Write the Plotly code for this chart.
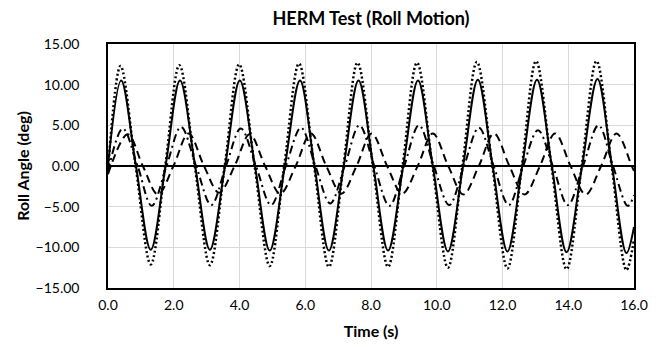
import plotly.graph_objects as go

# ---- Data (key points: extrema and zero crossings) ----
solid_t = [0.00, 0.40, 0.85, 1.30, 1.75, 2.19, 2.65, 3.10, 3.56, 4.01, 4.47, 4.92, 5.38, 5.84,
           6.28, 6.72, 7.17, 7.62, 8.07, 8.52, 8.98, 9.43, 9.88, 10.34, 10.80, 11.25, 11.70,
           12.15, 12.60, 13.05, 13.50, 13.95, 14.42, 14.89, 15.33, 15.77, 16.00]
solid_v = [0.0, 10.5, 0.0, -10.3, 0.0, 10.5, 0.0, -10.3, 0.0, 10.5, 0.0, -10.4, 0.0, 10.5,
           0.0, -10.4, 0.0, 10.5, 0.0, -10.4, 0.0, 10.5, 0.0, -10.5, 0.0, 10.6, 0.0,
           -10.5, 0.0, 10.6, 0.0, -10.6, 0.0, 10.7, 0.0, -10.7, -7.5]

dotted_t = [0.00, 0.38, 0.84, 1.30, 1.74, 2.17, 2.64, 3.10, 3.55, 3.99, 4.46, 4.92, 5.36, 5.81,
            6.27, 6.72, 7.16, 7.59, 8.06, 8.52, 8.96, 9.40, 9.87, 10.34, 10.78, 11.22, 11.69,
            12.15, 12.59, 13.02, 13.49, 13.95, 14.41, 14.86, 15.32, 15.77, 16.00]
dotted_v = [-0.5, 12.3, 0.0, -12.1, 0.0, 12.4, 0.0, -12.2, 0.0, 12.5, 0.0, -12.3, 0.0, 12.6,
            0.0, -12.4, 0.0, 12.7, 0.0, -12.4, 0.0, 12.7, 0.0, -12.5, 0.0, 12.8, 0.0,
            -12.6, 0.0, 12.9, 0.0, -12.7, 0.0, 12.9, 0.0, -12.8, -9.0]

dashdot_t = [0.00, 0.45, 0.90, 1.33, 1.78, 2.22, 2.68, 3.14, 3.59, 4.04, 4.50, 4.96, 5.41, 5.87,
             6.31, 6.76, 7.20, 7.65, 8.10, 8.56, 9.01, 9.46, 9.91, 10.38, 10.83, 11.28, 11.73,
             12.19, 12.63, 13.08, 13.53, 13.99, 14.45, 14.92, 15.36, 15.81, 16.00]
dashdot_v = [-0.7, 4.6, 0.0, -4.9, 0.0, 4.8, 0.0, -4.8, 0.0, 4.6, 0.0, -4.8, 0.0, 4.7,
             0.0, -4.6, 0.0, 5.0, 0.0, -4.9, 0.0, 5.0, 0.0, -4.8, 0.0, 4.7, 0.0,
             -4.8, 0.0, 4.4, 0.0, -4.8, 0.0, 5.0, 0.0, -4.9, -3.6]

dash_t = [0.00, 0.60, 1.06, 1.52, 1.99, 2.45, 2.92, 3.38, 3.85, 4.31, 4.78, 5.24, 5.71, 6.17,
          6.64, 7.10, 7.56, 8.02, 8.49, 8.95, 9.42, 9.88, 10.35, 10.81, 11.28, 11.74, 12.21,
          12.67, 13.14, 13.60, 14.07, 14.53, 15.00, 15.47, 15.93, 16.00]
dash_v = [-1.0, 3.9, 0.0, -3.5, 0.0, 4.0, 0.0, -3.3, 0.0, 3.9, 0.0, -3.4, 0.0, 4.0,
          0.0, -3.4, 0.0, 4.0, 0.0, -3.4, 0.0, 4.0, 0.0, -3.5, 0.0, 4.0, 0.0,
          -3.5, 0.0, 4.0, 0.0, -3.5, 0.0, 4.0, 0.0, -0.6]

x_ticks = [0, 2, 4, 6, 8, 10, 12, 14, 16]
y_ticks = [-15, -10, -5, 0, 5, 10, 15]

FONT = "Lato"

fig = go.Figure()
series = [
    (dotted_t, dotted_v, "2px,2.5px", 2.5),
    (dash_t, dash_v, "8px,5px", 2),
    (dashdot_t, dashdot_v, "8px,4px,2px,4px", 2),
    (solid_t, solid_v, "solid", 2),
]
for t, v, d, w in series:
    fig.add_trace(go.Scatter(x=t, y=v, mode="lines",
                             line=dict(color="black", width=w, dash=d, shape="spline", smoothing=1.0),
                             showlegend=False, hoverinfo="skip"))

fig.update_layout(
    width=660, height=347,
    margin=dict(l=108, r=26, t=44, b=59),
    paper_bgcolor="white", plot_bgcolor="white",
    font=dict(family=FONT, size=13, color="black"),
    title=dict(text="<b>HERM Test (Roll Motion)</b>", x=0.5, xanchor="center",
               y=1 - 19/347, yanchor="middle", xref="paper",
               font=dict(family=FONT, size=18, color="black")),
)
fig.update_xaxes(range=[0, 16], tickvals=x_ticks, tickformat=".1f", automargin=False,
                 showgrid=True, gridcolor="#d9d9d9", gridwidth=1,
                 showline=True, linecolor="black", linewidth=1.5, mirror=True,
                 zeroline=False, ticks="", ticklen=0, ticklabelstandoff=3,
                 tickfont=dict(family=FONT, size=14, color="black"),
                 title=dict(text="<b>Time (s)</b>", standoff=14,
                            font=dict(family=FONT, size=16, color="black")))
fig.update_yaxes(range=[-15, 15], tickvals=y_ticks, tickformat=".2f", automargin=False,
                 showgrid=True, gridcolor="#d9d9d9", gridwidth=1,
                 showline=True, linecolor="black", linewidth=1.5, mirror=True,
                 zeroline=True, zerolinecolor="black", zerolinewidth=1.5,
                 ticks="", ticklen=0, ticklabelstandoff=24,
                 tickfont=dict(family=FONT, size=14, color="black"),
                 title=dict(text="<b>Roll Angle (deg)</b>", standoff=2,
                            font=dict(family=FONT, size=16, color="black")))

fig.write_html("out.html", config={"displayModeBar": False},
               post_script="document.body.style.margin='0';")
